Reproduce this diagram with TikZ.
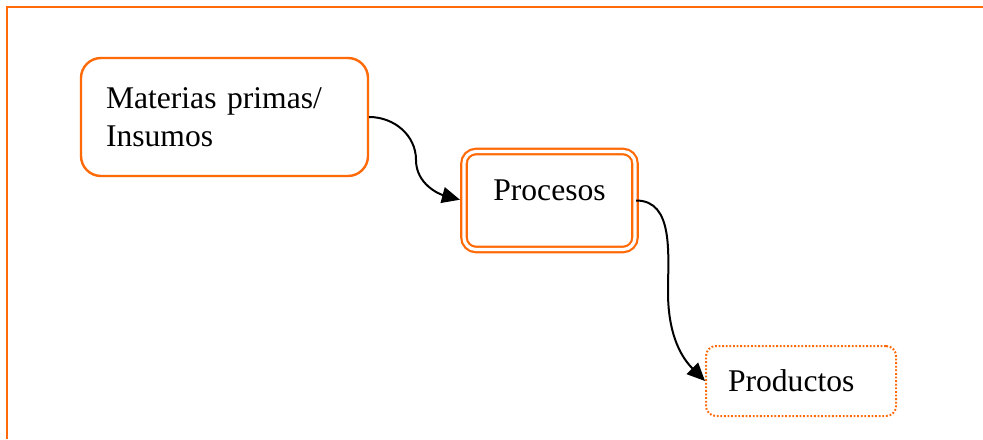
\documentclass[tikz,border=0pt]{standalone}
\usepackage{fontspec}
\setmainfont{Liberation Serif}
\usepackage{tikz}
\usetikzlibrary{arrows.meta}

\definecolor{naranja}{RGB}{255,106,8}

\tikzset{
    caja/.style={draw=naranja, line width=1.2pt, inner sep=0pt},
    conector/.style={line width=1pt, -{Triangle[length=9pt,width=8pt]}}
}

\begin{document}
\begin{tikzpicture}[x=0.5pt, y=-0.5pt]
        \useasboundingbox (0,0) rectangle (983,439);
        \fontsize{15.8}{19}\selectfont

        \draw[naranja, line width=1.2pt] (7,439) -- (7,7) -- (983,7);

        \node[caja, rounded corners=10pt, minimum width=143.5pt, minimum height=59pt, text width=118.5pt, align=left] (insumos) at (224.5,117) {Materias primas/\\Insumos};
        \node[caja, line width=1.1pt, rounded corners=6pt, double, double distance=1.6pt, minimum width=85.5pt, minimum height=49pt, text height=6pt, text depth=6pt] (procesos) at (549.5,200.5) {Procesos};
        \node[caja, line width=1pt, rounded corners=5pt, dash pattern=on 0.9pt off 0.9pt, minimum width=95pt, minimum height=35pt, text width=73pt, align=left] (productos) at (801,381) {Productos};
        \coordinate (curva1) at (416,160);
        \coordinate (curva2) at (668,292);

        \draw[conector, shorten >=1.5pt] (insumos.east) to[out=0, in=90] (curva1) to[out=-90, in=165] (procesos.west);
        \draw[conector] (procesos.east) to[out=0, in=90] (curva2) to[out=-90, in=135] (productos.west);
    \end{tikzpicture}
\end{document}
